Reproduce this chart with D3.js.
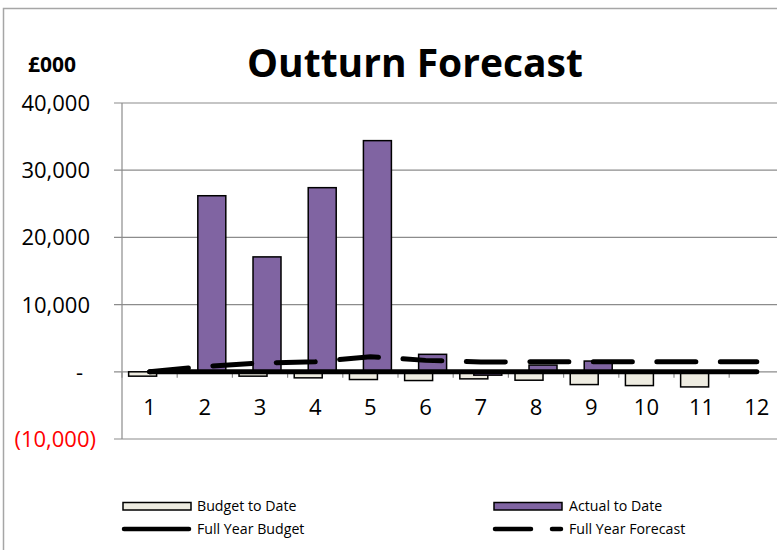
<!DOCTYPE html>
<html lang="en">
<head>
  <meta charset="UTF-8" />
  <title>Outturn Forecast</title>
  <script src="https://d3js.org/d3.v7.min.js"></script>
  <style>
    body {
      margin: 0;
      background: #fff;
      font-family: 'Open Sans', sans-serif;
    }
    svg {
      display: block;
    }
  </style>
</head>
<body>
  <div id="chart"></div>

  <script>
    // Chart data (£000)
    const categories = ["1", "2", "3", "4", "5", "6", "7", "8", "9", "10", "11", "12"];
    const budgetToDate = [-650, 0, -650, -900, -1150, -1300, -1050, -1250, -1900, -2050, -2250, 0];
    const actualToDate = [0, 26200, 17100, 27400, 34400, 2600, -500, 1000, 1600, 0, 0, 0];
    const fullYearBudget = [0, 0, 0, 0, 0, 0, 0, 0, 0, 0, 0, 0];
    const fullYearForecast = [0, 800, 1300, 1500, 2250, 1700, 1450, 1500, 1500, 1500, 1500, 1500];
    const yTickValues = [-10000, 0, 10000, 20000, 30000, 40000];
    const yTickLabels = ["(10,000)", "-", "10,000", "20,000", "30,000", "40,000"];

    const width = 777, height = 550;
    const plotLeft = 122, plotTop = 103, plotBottom = 439;
    const step = 55.2;
    const plotRight = plotLeft + step * categories.length; // runs past the window edge

    const budgetFill = "#eeece1";
    const actualFill = "#8064a2";
    const gridColor = "#8c8c8c";

    const svg = d3.select("#chart")
      .append("svg")
      .attr("width", width)
      .attr("height", height);

    // outer chart border (right and bottom run off the page)
    svg.append("rect")
      .attr("x", 3.5)
      .attr("y", 8.5)
      .attr("width", width + 20)
      .attr("height", height + 20)
      .attr("fill", "none")
      .attr("stroke", "#a6a6a6")
      .attr("stroke-width", 1.5);

    const x = d3.scaleBand()
      .domain(categories)
      .range([plotLeft, plotRight])
      .padding(0);

    const y = d3.scaleLinear()
      .domain([-10000, 40000])
      .range([plotBottom, plotTop]);

    // gridlines
    svg.append("g")
      .selectAll("line")
      .data(yTickValues)
      .join("line")
      .attr("x1", plotLeft - 8)
      .attr("x2", plotRight)
      .attr("y1", d => y(d))
      .attr("y2", d => y(d))
      .attr("stroke", gridColor)
      .attr("stroke-width", 1.2);

    // y tick labels
    svg.append("g")
      .selectAll("text")
      .data(yTickValues)
      .join("text")
      .attr("x", (d, i) => {
        const lbl = yTickLabels[i];
        if (lbl.startsWith("(")) return 96;
        if (lbl === "-") return 83;
        return 90;
      })
      .attr("y", d => y(d))
      .attr("dy", "0.36em")
      .attr("text-anchor", "end")
      .attr("font-size", "22px")
      .attr("fill", (d, i) => yTickLabels[i].startsWith("(") ? "#ff0000" : "#000")
      .text((d, i) => yTickLabels[i]);

    // x tick marks below the zero line
    const bounds = d3.range(categories.length + 1).map(i => plotLeft + i * x.bandwidth());
    svg.append("g")
      .selectAll("line")
      .data(bounds)
      .join("line")
      .attr("x1", d => d)
      .attr("x2", d => d)
      .attr("y1", y(0))
      .attr("y2", y(0) + 6)
      .attr("stroke", gridColor)
      .attr("stroke-width", 1.2);

    // bars: budget on the left of each category, actual overlapping 50% on the right
    const barW = x.bandwidth() * 0.507;
    const gapOff = x.bandwidth() * 0.12;

    svg.append("g")
      .selectAll("rect")
      .data(budgetToDate)
      .join("rect")
      .attr("x", (d, i) => x(categories[i]) + gapOff)
      .attr("y", d => y(Math.max(0, d)))
      .attr("width", barW)
      .attr("height", d => Math.abs(y(d) - y(0)))
      .attr("fill", budgetFill)
      .attr("stroke", "#000")
      .attr("stroke-width", 1.5)
      .attr("display", d => d === 0 ? "none" : null);

    svg.append("g")
      .selectAll("rect")
      .data(actualToDate)
      .join("rect")
      .attr("x", (d, i) => x(categories[i]) + gapOff + barW / 2)
      .attr("y", d => y(Math.max(0, d)))
      .attr("width", barW)
      .attr("height", d => Math.abs(y(d) - y(0)))
      .attr("fill", actualFill)
      .attr("stroke", "#000")
      .attr("stroke-width", 1.5)
      .attr("display", d => d === 0 ? "none" : null);

    // y axis line
    svg.append("line")
      .attr("x1", plotLeft)
      .attr("x2", plotLeft)
      .attr("y1", plotTop)
      .attr("y2", plotBottom)
      .attr("stroke", gridColor)
      .attr("stroke-width", 1.2);

    // lines
    const line = d3.line()
      .x((d, i) => x(categories[i]) + x.bandwidth() / 2)
      .y(d => y(d));

    svg.append("path")
      .datum(fullYearBudget)
      .attr("d", line)
      .attr("fill", "none")
      .attr("stroke", "#000")
      .attr("stroke-width", 5)
      .attr("stroke-linecap", "round");

    svg.append("path")
      .datum(fullYearForecast)
      .attr("d", line)
      .attr("fill", "none")
      .attr("stroke", "#000")
      .attr("stroke-width", 5)
      .attr("stroke-linecap", "round")
      .attr("stroke-dasharray", "39,24.5");

    // x labels
    svg.append("g")
      .selectAll("text")
      .data(categories)
      .join("text")
      .attr("x", d => x(d) + x.bandwidth() / 2)
      .attr("y", 415)
      .attr("text-anchor", "middle")
      .attr("font-size", "22px")
      .text(d => d);

    // title and unit
    svg.append("text")
      .attr("x", 415)
      .attr("y", 77)
      .attr("text-anchor", "middle")
      .attr("font-size", "39px")
      .attr("font-weight", "bold")
      .text("Outturn Forecast");

    svg.append("text")
      .attr("x", 28)
      .attr("y", 72)
      .attr("font-size", "21px")
      .attr("font-weight", "bold")
      .text("£000");

    // legend
    const legend = svg.append("g").attr("font-size", "14.2px");

    legend.append("rect")
      .attr("x", 123).attr("y", 502.5)
      .attr("width", 68).attr("height", 7.5)
      .attr("fill", budgetFill).attr("stroke", "#000").attr("stroke-width", 1.5);
    legend.append("text").attr("x", 197).attr("y", 506).attr("dy", "0.36em").text("Budget to Date");

    legend.append("rect")
      .attr("x", 494).attr("y", 502.5)
      .attr("width", 68).attr("height", 7.5)
      .attr("fill", actualFill).attr("stroke", "#000").attr("stroke-width", 1.5);
    legend.append("text").attr("x", 569).attr("y", 506).attr("dy", "0.36em").text("Actual to Date");

    legend.append("line")
      .attr("x1", 124).attr("x2", 189).attr("y1", 529).attr("y2", 529)
      .attr("stroke", "#000").attr("stroke-width", 4.5).attr("stroke-linecap", "round");
    legend.append("text").attr("x", 197).attr("y", 529).attr("dy", "0.36em").text("Full Year Budget");

    legend.append("line")
      .attr("x1", 495).attr("x2", 561).attr("y1", 529).attr("y2", 529)
      .attr("stroke", "#000").attr("stroke-width", 4.5).attr("stroke-linecap", "round")
      .attr("stroke-dasharray", "36,21");
    legend.append("text").attr("x", 569).attr("y", 529).attr("dy", "0.36em").text("Full Year Forecast");
  </script>
</body>
</html>
